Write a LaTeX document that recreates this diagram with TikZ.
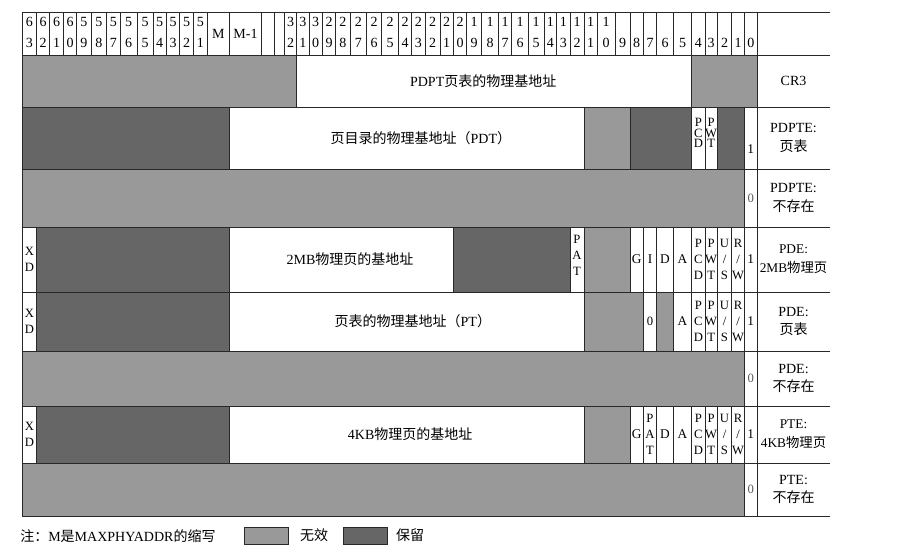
\documentclass[tikz,border=0pt]{standalone}
\usepackage{fontspec}
\setmainfont{Liberation Serif}
\newfontfamily\cjk{Noto Sans CJK SC}
\newcounter{cellid}
\definecolor{lgray}{RGB}{153,153,153}
\definecolor{dgray}{RGB}{102,102,102}
\definecolor{lineclr}{RGB}{40,40,40}
% #1 x1, #2 x2, #3 y1, #4 y2, #5 fill, #6 node style, #7 text
\newcommand\fld[7]{%
  \stepcounter{cellid}%
  \draw[cellbox,fill=#5] (#1,#3) rectangle (#2,#4);
  \node[#6] (f\arabic{cellid}) at ({(#1+#2)/2},{(#3+#4)/2}) {#7};
}
\begin{document}
\begin{tikzpicture}[x=0.75pt,y=-0.75pt,
  cellbox/.style={draw=lineclr,line width=0.75pt},
  big/.style={inner sep=0pt,align=center,font=\fontsize{10.5}{13}\selectfont},
  lab/.style={inner sep=0pt,align=center,font=\fontsize{10.5}{14}\selectfont},
  labs/.style={inner sep=0pt,align=center,font=\fontsize{10}{14}\selectfont},
  vert/.style={inner sep=0pt,align=center,font=\fontsize{9.5}{12}\selectfont},
  vertc/.style={inner sep=0pt,align=center,font=\fontsize{9.5}{8}\selectfont,yshift=3.75pt},
  sm/.style={inner sep=0pt,align=center,font=\fontsize{10}{12}\selectfont},
  zero/.style={inner sep=0pt,font=\fontsize{9.5}{12}\selectfont,text=black!65},
  hdig/.style={inner sep=0pt,font=\fontsize{10.5}{12}\selectfont},
  none/.style={inner sep=0pt}]
\useasboundingbox (0,0) rectangle (899,550);
\fill[white] (0,0) rectangle (899,550);

% ---------- header ----------
\foreach \a/\b/\t/\u [count=\k] in {22.7/36.3/6/3, 36.3/49.7/6/2, 49.7/63.7/6/1, 63.7/76.3/6/0,
  76.3/91.3/5/9, 91.3/106.3/5/8, 106.3/120.3/5/7, 120.3/137/5/6, 137/153/5/5, 153/166.3/5/4,
  166.3/179.7/5/3, 179.7/193.7/5/2, 193.7/207/5/1,
  284.7/296.7/3/2, 296.7/309/3/1, 309/322.3/3/0, 322.3/335.7/2/9, 335.7/350/2/8, 350/366.7/2/7,
  366.7/381.7/2/6, 381.7/398.3/2/5, 398.3/411.7/2/4, 411.7/425/2/3, 425/440/2/2, 440/453.3/2/1,
  453.3/466.7/2/0, 466.7/481.7/1/9, 481.7/498.3/1/8, 498.3/511.7/1/7, 511.7/528.3/1/6,
  528.3/544/1/5, 544/556.7/1/4, 556.7/570/1/3, 570/584/1/2, 584/597.3/1/1, 597.3/615/1/0,
  615/630//9, 630/643.3//8, 643.3/656.7//7, 656.7/673.3//6, 673.3/691.7//5, 691.7/705//4,
  705/717.3//3, 717.3/731.7//2, 731.7/744.3//1, 744.3/757.3//0} {
  \draw[cellbox,fill=white] (\a,12.7) rectangle (\b,55);
  \node[hdig] (ht\k) at ({(\a+\b)/2},21.5) {\t};
  \node[hdig] (hb\k) at ({(\a+\b)/2},42.5) {\u};
}
\fld{207}{229.7}{12.7}{55}{white}{big}{M}
\fld{229.7}{261.3}{12.7}{55}{white}{big}{M-1}
\fld{261.3}{274.7}{12.7}{55}{white}{none}{}
\fld{274.7}{284.7}{12.7}{55}{white}{none}{}

% label column lines
\foreach \y in {12.7,55,107,169,227,292,351,406,463,516}
  \draw[cellbox] (757.3,\y) -- (830,\y);

% ---------- CR3 ----------
\fld{22.7}{296.7}{55}{107}{lgray}{none}{}
\fld{296.7}{691.7}{55}{107}{white}{big,xshift=-8.25pt}{PDPT{\cjk 页表的物理基地址}}
\fld{691.7}{757.3}{55}{107}{lgray}{none}{}
\node[lab] (lcr3) at (793.5,81) {CR3};

% ---------- PDPTE: page directory ----------
\fld{22.7}{229.7}{107}{169}{dgray}{none}{}
\fld{229.7}{584}{107}{169}{white}{big,xshift=10.5pt}{{\cjk 页目录的物理基地址（}PDT{\cjk ）}}
\fld{584}{630}{107}{169}{lgray}{none}{}
\fld{630}{691.7}{107}{169}{dgray}{none}{}
\fld{691.7}{705}{107}{169}{white}{vertc}{P\\C\\D}
\fld{705}{717.3}{107}{169}{white}{vertc}{P\\W\\T}
\fld{717.3}{744.3}{107}{169}{dgray}{none}{}
\fld{744.3}{757.3}{107}{169}{white}{sm,yshift=-8.5pt}{1}
\node[lab] (lpdpte) at (793.5,138) {PDPTE:\\{\cjk 页表}};

% ---------- PDPTE: not present ----------
\fld{22.7}{744.3}{169}{227}{lgray}{none}{}
\fld{744.3}{757.3}{169}{227}{white}{zero}{0}
\node[lab] (lpdptenp) at (793.5,198) {PDPTE:\\{\cjk 不存在}};

% ---------- PDE: 2MB page ----------
\fld{22.7}{36.3}{227}{292}{white}{vert}{X\\D}
\fld{36.3}{229.7}{227}{292}{dgray}{none}{}
\fld{229.7}{453.3}{227}{292}{white}{big,xshift=6.4pt}{2MB{\cjk 物理页的基地址}}
\fld{453.3}{570}{227}{292}{dgray}{none}{}
\fld{570}{584}{227}{292}{white}{vert,yshift=3pt}{P\\A\\T}
\fld{584}{630}{227}{292}{lgray}{none}{}
\fld{630}{643.3}{227}{292}{white}{sm}{G}
\fld{643.3}{656.7}{227}{292}{white}{sm}{I}
\fld{656.7}{673.3}{227}{292}{white}{sm}{D}
\fld{673.3}{691.7}{227}{292}{white}{sm}{A}
\fld{691.7}{705}{227}{292}{white}{vert}{P\\C\\D}
\fld{705}{717.3}{227}{292}{white}{vert}{P\\W\\T}
\fld{717.3}{731.7}{227}{292}{white}{vert}{U\\/\\S}
\fld{731.7}{744.3}{227}{292}{white}{vert}{R\\/\\W}
\fld{744.3}{757.3}{227}{292}{white}{sm}{1}
\node[labs] (lpde2m) at (793.5,259.5) {PDE:\\2MB{\cjk 物理页}};

% ---------- PDE: page table ----------
\fld{22.7}{36.3}{292}{351}{white}{vert}{X\\D}
\fld{36.3}{229.7}{292}{351}{dgray}{none}{}
\fld{229.7}{584}{292}{351}{white}{big,xshift=4.5pt}{{\cjk 页表的物理基地址（}PT{\cjk ）}}
\fld{584}{643.3}{292}{351}{lgray}{none}{}
\fld{643.3}{656.7}{292}{351}{white}{zero,text=black}{0}
\fld{656.7}{673.3}{292}{351}{lgray}{none}{}
\fld{673.3}{691.7}{292}{351}{white}{sm}{A}
\fld{691.7}{705}{292}{351}{white}{vert}{P\\C\\D}
\fld{705}{717.3}{292}{351}{white}{vert}{P\\W\\T}
\fld{717.3}{731.7}{292}{351}{white}{vert}{U\\/\\S}
\fld{731.7}{744.3}{292}{351}{white}{vert}{R\\/\\W}
\fld{744.3}{757.3}{292}{351}{white}{sm}{1}
\node[lab] (lpdept) at (793.5,321.5) {PDE:\\{\cjk 页表}};

% ---------- PDE: not present ----------
\fld{22.7}{744.3}{351}{406}{lgray}{none}{}
\fld{744.3}{757.3}{351}{406}{white}{zero}{0}
\node[lab] (lpdenp) at (793.5,378.5) {PDE:\\{\cjk 不存在}};

% ---------- PTE: 4KB page ----------
\fld{22.7}{36.3}{406}{463}{white}{vert}{X\\D}
\fld{36.3}{229.7}{406}{463}{dgray}{none}{}
\fld{229.7}{584}{406}{463}{white}{big,xshift=2.5pt}{4KB{\cjk 物理页的基地址}}
\fld{584}{630}{406}{463}{lgray}{none}{}
\fld{630}{643.3}{406}{463}{white}{sm}{G}
\fld{643.3}{656.7}{406}{463}{white}{vert}{P\\A\\T}
\fld{656.7}{673.3}{406}{463}{white}{sm}{D}
\fld{673.3}{691.7}{406}{463}{white}{sm}{A}
\fld{691.7}{705}{406}{463}{white}{vert}{P\\C\\D}
\fld{705}{717.3}{406}{463}{white}{vert}{P\\W\\T}
\fld{717.3}{731.7}{406}{463}{white}{vert}{U\\/\\S}
\fld{731.7}{744.3}{406}{463}{white}{vert}{R\\/\\W}
\fld{744.3}{757.3}{406}{463}{white}{sm}{1}
\node[labs] (lpte) at (793.5,434.5) {PTE:\\4KB{\cjk 物理页}};

% ---------- PTE: not present ----------
\fld{22.7}{744.3}{463}{516}{lgray}{none}{}
\fld{744.3}{757.3}{463}{516}{white}{zero}{0}
\node[lab] (lptenp) at (793.5,489.5) {PTE:\\{\cjk 不存在}};

% ---------- legend ----------
\node[big,anchor=west] (note) at (20,536) {{\cjk 注：}M{\cjk 是}MAXPHYADDR{\cjk 的缩写}};
\draw[cellbox,fill=lgray] (244,527) rectangle (288.7,544);
\node[big] (lg1) at (314,535.5) {\cjk 无效};
\draw[cellbox,fill=dgray] (343.3,527) rectangle (387.7,544);
\node[big] (lg2) at (410,535.5) {\cjk 保留};
\end{tikzpicture}
\end{document}
